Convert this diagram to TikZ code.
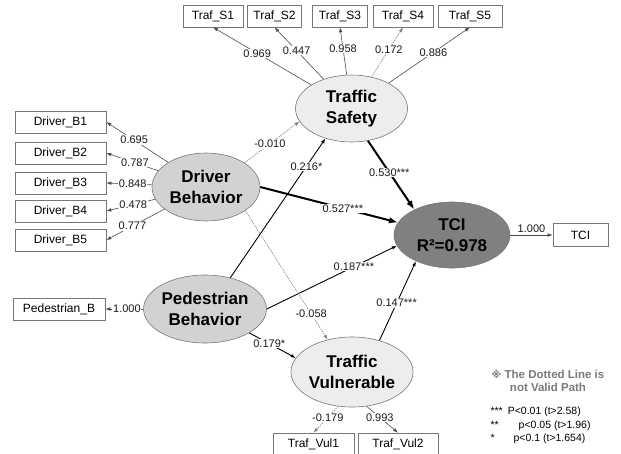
\documentclass[tikz,border=0pt]{standalone}
\usepackage{fontspec}
\setmainfont{Liberation Sans}
\newfontfamily\marksymbol{DejaVu Sans}
\usepackage{xcolor}
\usepackage{tikz}
\usetikzlibrary{arrows.meta,shapes.geometric,positioning}

\definecolor{latlight}{HTML}{EDEDED}
\definecolor{latmid}{HTML}{D2D2D2}
\definecolor{latdark}{HTML}{808080}
\definecolor{edgegray}{HTML}{777777}
\definecolor{notegray}{HTML}{7A7A7A}

\begin{document}
\begin{tikzpicture}[x=1pt,y=-1pt,>={Latex[length=5pt,width=3.6pt]},
  latent/.style={ellipse,draw=edgegray,line width=0.6pt,inner sep=0pt,align=center,
    minimum width=108pt,minimum height=68pt,font=\fontsize{17}{21}\selectfont\bfseries},
  indic/.style={rectangle,draw=edgegray,line width=0.6pt,minimum height=22pt,inner sep=1pt,
    font=\fontsize{12}{14}\selectfont},
  coef/.style={fill=white,text=black!90,inner sep=0.8pt,font=\fontsize{11}{12}\selectfont},
  loadarrow/.style={->,line width=0.6pt,black!70},
  patharrow/.style={->,line width=0.9pt,black},
  strongarrow/.style={-{Latex[length=9pt,width=6.5pt]},line width=2pt,black},
  weakarrow/.style={->,line width=0.6pt,gray,dash pattern=on 1.5pt off 1pt}]

  \useasboundingbox (0,0) rectangle (621,453);
  \clip (0,0) rectangle (621,453);

  \node[latent,fill=latlight,minimum width=112pt,minimum height=67pt] (safety) at (351.5,108.5) {Traffic\\Safety};
  \node[latent,fill=latmid] (driver) at (206,187) {Driver\\Behavior};
  \node[latent,fill=latmid] (ped) at (205,309) {Pedestrian\\Behavior};
  \node[latent,fill=latdark,minimum width=116pt,minimum height=66pt] (tci) at (452,235) {TCI\\R²=0.978};
  \node[latent,fill=latlight,minimum height=70pt] (vul) at (352,372) {Traffic\\Vulnerable};

  \node[indic,minimum width=60pt] (s1) at (213,16) {Traf\_S1};
  \node[indic,minimum width=54pt] (s2) at (274.5,16) {Traf\_S2};
  \node[indic,minimum width=55pt] (s3) at (340,16) {Traf\_S3};
  \node[indic,minimum width=60pt] (s4) at (403,16) {Traf\_S4};
  \node[indic,minimum width=64pt] (s5) at (470,16) {Traf\_S5};

  \node[indic,minimum width=91pt] (b1) at (60.5,122) {Driver\_B1};
  \node[indic,minimum width=91pt] (b2) at (60.5,153) {Driver\_B2};
  \node[indic,minimum width=91pt] (b3) at (60.5,183) {Driver\_B3};
  \node[indic,minimum width=91pt] (b4) at (60.5,211) {Driver\_B4};
  \node[indic,minimum width=91pt] (b5) at (60.5,240) {Driver\_B5};
  \node[indic,minimum width=92pt] (pb) at (59,309) {Pedestrian\_B};

  \node[indic,minimum width=55pt,minimum height=23pt] (tbox) at (580.5,235) {TCI};
  \node[indic,minimum width=81pt] (v1) at (313.5,444) {Traf\_Vul1};
  \node[indic,minimum width=80pt] (v2) at (398,444) {Traf\_Vul2};

  \draw[loadarrow] (safety) -- (s1.south) node[coef,pos=0.55] {0.969};
  \draw[loadarrow] (safety) -- (s2.south) node[coef,pos=0.55] {0.447};
  \draw[loadarrow] (safety) -- (s3.south) node[coef,pos=0.55] {0.958};
  \draw[weakarrow] (safety) -- (s4.south) node[coef,pos=0.55] {0.172};
  \draw[loadarrow] (safety) -- (s5.south) node[coef,pos=0.55] {0.886};

  \draw[loadarrow] (driver) -- (b1.east) node[coef,pos=0.55] {0.695};
  \draw[loadarrow] (driver) -- (b2.east) node[coef,pos=0.45] {0.787};
  \draw[loadarrow] (driver) -- (b3.east) node[coef,pos=0.42] {0.848};
  \draw[loadarrow] (driver) -- (b4.east) node[coef,pos=0.45] {0.478};
  \draw[loadarrow] (driver) -- (b5.east) node[coef,pos=0.55] {0.777};
  \draw[loadarrow] (ped) -- (pb.east) node[coef,pos=0.43] {1.000};

  \draw[loadarrow] (tci) -- (tbox.west) node[coef,pos=0.5,above=1pt,fill=none] {1.000};
  \draw[weakarrow] (vul.-112) -- (v1.north) node[coef,pos=0.42] {-0.179};
  \draw[loadarrow] (vul.-67) -- (v2.north) node[coef,pos=0.42] {0.993};

  \draw[weakarrow] (driver.32) -- (safety.194) node[coef,pos=0.46] {-0.010};
  \draw[patharrow] (ped.51) -- (safety.229) node[coef,pos=0.8] {0.216*};
  \draw[strongarrow] (driver.east) -- (tci.167) node[coef,pos=0.6] {0.527***};
  \draw[strongarrow] (safety.-63) -- (tci.146) node[coef,pos=0.46] {0.530***};
  \draw[patharrow] (ped.east) -- (tci.191) node[coef,pos=0.67] {0.187***};
  \draw[patharrow] (vul.49) -- (tci.216) node[coef,pos=0.47] {0.147***};
  \draw[weakarrow] (driver.-31) -- (vul.127) node[coef,pos=0.8] {-0.058};
  \draw[patharrow] (ped) -- (vul.166) node[coef,pos=0.43] {0.179*};

  \node[align=center,text=notegray,font=\fontsize{11.5}{13.5}\selectfont\bfseries] (note) at (548,381)
    {{\marksymbol\fontsize{10}{12}\selectfont ※} The Dotted Line is\\not Valid Path};
  \node[anchor=west,font=\fontsize{10.5}{12}\selectfont] (sig1) at (487,412) {***\hspace{5pt}P<0.01 (t>2.58)};
  \node[anchor=west,font=\fontsize{10.5}{12}\selectfont] (sig2) at (487,425.5) {**\hspace{20pt}p<0.05 (t>1.96)};
  \node[anchor=west,font=\fontsize{10.5}{12}\selectfont] (sig3) at (487,439) {*\hspace{19pt}p<0.1 (t>1.654)};
\end{tikzpicture}
\end{document}
